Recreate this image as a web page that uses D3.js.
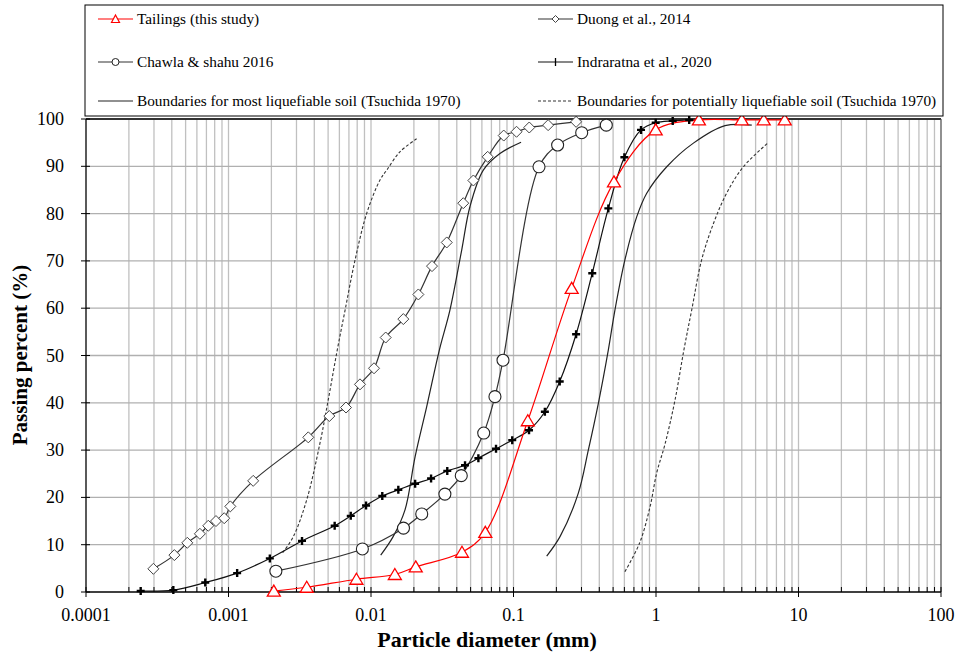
<!DOCTYPE html>
<html><head><meta charset="utf-8">
<script src="https://cdn.jsdelivr.net/npm/d3@7"></script>
<style>body{margin:0;background:#fff}svg{display:block}text{font-family:"Liberation Serif","Times New Roman",serif}</style>
</head><body><svg id="c" width="959" height="655"></svg>
<script>
// ---- data ----
const tailingsD = [0.00208,0.00354,0.0079,0.0147,0.0206,0.0435,0.0634,0.126,0.256,0.507,0.995,2.0,4.0,5.7,8.0];
const tailingsP = [0.2,1.0,2.7,3.7,5.3,8.4,12.6,36.2,64.2,86.7,97.7,99.8,99.8,99.8,99.8];
const duongD = [0.000297,0.000417,0.000514,0.00063,0.000721,0.000817,0.000933,0.00103,0.00149,0.00363,0.0051,0.00668,0.00837,0.0105,0.01268,0.01686,0.0215,0.0268,0.034,0.0444,0.0523,0.0659,0.0854,0.105,0.129,0.175,0.275];
const duongP = [4.9,7.8,10.4,12.3,14.0,15.0,15.6,18.1,23.5,32.7,37.2,39.0,43.9,47.3,53.8,57.7,62.9,68.9,73.9,82.2,87.0,92.0,96.5,97.3,98.2,98.7,99.4];
const chawlaD = [0.00215,0.0087,0.0169,0.0227,0.033,0.043,0.0618,0.0741,0.0844,0.151,0.204,0.301,0.448];
const chawlaP = [4.4,9.1,13.5,16.5,20.7,24.6,33.6,41.3,49.0,89.9,94.5,97.1,98.7];
const indraD = [0.000242,0.00041,0.000687,0.00115,0.00195,0.00328,0.00556,0.00721,0.00923,0.012,0.01555,0.0204,0.0264,0.0343,0.0457,0.0567,0.0754,0.098,0.1285,0.166,0.211,0.275,0.357,0.463,0.6,0.785,0.995,1.31,1.71];
const indraP = [0.2,0.4,2.0,4.0,7.1,10.8,14.0,16.1,18.3,20.3,21.6,22.9,24.0,25.6,26.8,28.3,30.3,32.1,34.2,38.1,44.5,54.5,67.4,81.1,91.9,97.7,99.2,99.6,99.8];
const mostFineD = [0.0117,0.0143,0.0173,0.0204,0.0246,0.0302,0.0358,0.0433,0.0495,0.0614,0.0803,0.113];
const mostFineP = [7.8,11.7,17.3,28.6,39.2,51.2,59.6,72.3,81.5,89.2,92.7,95.1];
const mostCoarseD = [0.171,0.212,0.285,0.335,0.394,0.463,0.515,0.605,0.732,0.861,1.19,1.83,3.05,4.7];
const mostCoarseP = [7.6,11.7,20.9,30.0,39.9,51.2,59.6,70.2,79.3,84.3,89.9,94.9,98.6,98.7];
const potFineD = [0.0024,0.00285,0.00354,0.00438,0.00501,0.0058,0.00658,0.00773,0.00934,0.01156,0.0129,0.016,0.0211];
const potFineP = [8.3,11.7,19.5,31.4,40.6,51.2,59.6,70.2,80.1,87.1,89.2,93.1,95.9];
const potCoarseD = [0.605,0.766,0.908,1.01,1.16,1.36,1.57,1.78,2.09,2.53,3.13,4.10,6.14];
const potCoarseP = [4.3,10.3,18.0,25.1,31.4,40.6,51.2,59.6,70.2,77.9,84.3,89.9,95.0];
const xTickLabels = ["0.0001","0.001","0.01","0.1","1","10","100"];
const yTicks = [0,10,20,30,40,50,60,70,80,90,100];
const legendLabels = ["Tailings (this study)","Duong et al., 2014","Chawla & shahu 2016","Indraratna et al., 2020","Boundaries for most liquefiable soil (Tsuchida 1970)","Boundaries for potentially liquefiable soil (Tsuchida 1970)"];

// ---- drawing ----
const svg = d3.select("#c");
const L=86,R=941,T=119,B=592;
const x = d3.scaleLog().domain([0.0001,100]).range([L,R]);
const y = d3.scaleLinear().domain([0,100]).range([B,T]);
const zip=(a,b)=>a.map((d,i)=>[d,b[i]]);

// grid
const minor=[];
for(let e=-4;e<2;e++){for(let m=1;m<10;m++){minor.push(m*Math.pow(10,e));}}
minor.push(100);
const g=svg.append("g");
g.selectAll("line.vg").data(minor.filter(v=>v>0.0001&&v<100)).enter().append("line")
 .attr("x1",d=>x(d)).attr("x2",d=>x(d)).attr("y1",T).attr("y2",B)
 .attr("stroke","#c0c0c0").attr("stroke-width",1.3);
g.selectAll("line.hg").data(yTicks.filter(v=>v>0)).enter().append("line")
 .attr("x1",L).attr("x2",R).attr("y1",d=>y(d)).attr("y2",d=>y(d))
 .attr("stroke","#b0b0b0").attr("stroke-width",1.3);
// frame
svg.append("line").attr("x1",L).attr("x2",R).attr("y1",T).attr("y2",T).attr("stroke","#000").attr("stroke-width",1.3);
svg.append("line").attr("x1",R).attr("x2",R).attr("y1",T).attr("y2",B).attr("stroke","#555").attr("stroke-width",1.3);

// axes
const xAxis=svg.append("g").attr("transform",`translate(0,${B})`);
xAxis.append("line").attr("x1",L).attr("x2",R).attr("stroke","#000").attr("stroke-width",1.3);
xAxis.selectAll("line.mt").data(minor).enter().append("line")
 .attr("x1",d=>x(d)).attr("x2",d=>x(d))
 .attr("y1",-5).attr("y2",(d,i)=>Math.abs(Math.log10(d)-Math.round(Math.log10(d)))<1e-9?5:0)
 .attr("stroke","#000").attr("stroke-width",1);
xAxis.selectAll("text").data(xTickLabels).enter().append("text")
 .attr("x",d=>x(+d)).attr("y",29).attr("text-anchor","middle").attr("font-size",18).attr("fill","#000").text(d=>d);

const yAxis=svg.append("g").attr("transform",`translate(${L},0)`);
yAxis.append("line").attr("y1",T).attr("y2",B).attr("stroke","#000").attr("stroke-width",1.3);
yAxis.selectAll("line.t").data(yTicks).enter().append("line")
 .attr("x1",-5).attr("x2",4).attr("y1",d=>y(d)).attr("y2",d=>y(d)).attr("stroke","#000");
yAxis.selectAll("text").data(yTicks).enter().append("text")
 .attr("x",-22).attr("y",d=>y(d)+6).attr("text-anchor","end").attr("font-size",18).attr("fill","#000").text(d=>d);

svg.append("text").attr("x",487).attr("y",647).attr("text-anchor","middle").attr("font-size",22).attr("font-weight","bold").text("Particle diameter (mm)");
svg.append("text").attr("transform","translate(27,355) rotate(-90)").attr("text-anchor","middle").attr("font-size",21).attr("font-weight","bold").text("Passing percent (%)");

// lines
const line=d3.line().x(d=>x(d[0])).y(d=>y(d[1])).curve(d3.curveCatmullRom.alpha(0.5));
const plot=svg.append("g");
function path(data,color,dash,w){
  plot.append("path").attr("d",line(data)).attr("fill","none").attr("stroke",color).attr("stroke-width",w||1.2).attr("stroke-dasharray",dash||null);
}
path(zip(mostFineD,mostFineP),"#222");
path(zip(mostCoarseD,mostCoarseP),"#222");
path(zip(potFineD,potFineP),"#333","3,2",1.1);
path(zip(potCoarseD,potCoarseP),"#333","3,2",1.1);
path(zip(duongD,duongP),"#333");
path(zip(chawlaD,chawlaP),"#333");
path(zip(indraD,indraP),"#111");
path(zip(tailingsD,tailingsP),"#ff0000");

// markers
function marker(sel,type,cx,cy){
  if(type==="tri"){
    sel.append("path").attr("d",`M${cx},${cy-6}L${cx+6.5},${cy+5}L${cx-6.5},${cy+5}Z`).attr("fill","#fff").attr("stroke","#ff0000").attr("stroke-width",1.3);
  } else if(type==="dia"){
    sel.append("path").attr("d",`M${cx},${cy-5.5}L${cx+5.5},${cy}L${cx},${cy+5.5}L${cx-5.5},${cy}Z`).attr("fill","#fff").attr("stroke","#444").attr("stroke-width",1);
  } else if(type==="circ"){
    sel.append("circle").attr("cx",cx).attr("cy",cy).attr("r",6).attr("fill","#fff").attr("stroke","#222").attr("stroke-width",1.1);
  } else if(type==="plus"){
    sel.append("path").attr("d",`M${cx-4},${cy}H${cx+4}M${cx},${cy-4}V${cy+4}`).attr("stroke","#000").attr("stroke-width",2.4);
  }
}
function markers(D,P,type){const mg=plot.append("g");D.forEach((d,i)=>marker(mg,type,x(d),y(P[i])));}
markers(duongD,duongP,"dia");
markers(chawlaD,chawlaP,"circ");
markers(indraD,indraP,"plus");
markers(tailingsD,tailingsP,"tri");

// legend
const lg=svg.append("g");
lg.append("rect").attr("x",85).attr("y",5).attr("width",858).attr("height",111).attr("fill","#fff").attr("stroke","#000").attr("stroke-width",1);
const items=[
 {c:0,r:0,col:"#ff0000",m:"tri"},
 {c:1,r:0,col:"#333",m:"dia"},
 {c:0,r:1,col:"#333",m:"circ"},
 {c:1,r:1,col:"#111",m:"plus"},
 {c:0,r:2,col:"#222",m:null},
 {c:1,r:2,col:"#333",m:null,dash:"3,2"}];
const colX=[98,538], rowY=[19,62,101];
items.forEach((it,i)=>{
  const x0=colX[it.c], yy=rowY[it.r];
  lg.append("line").attr("x1",x0).attr("x2",x0+35).attr("y1",yy).attr("y2",yy).attr("stroke",it.col).attr("stroke-width",1.2).attr("stroke-dasharray",it.dash||null);
  if(it.m){
    const s=lg.append("g");
    if(it.m==="tri"){s.append("path").attr("d",`M${x0+17.5},${yy-4}L${x0+21.5},${yy+3.5}L${x0+13.5},${yy+3.5}Z`).attr("fill","#fff").attr("stroke","#ff0000").attr("stroke-width",1.2);}
    else if(it.m==="dia"){s.append("path").attr("d",`M${x0+17.5},${yy-3.5}L${x0+21},${yy}L${x0+17.5},${yy+3.5}L${x0+14},${yy}Z`).attr("fill","#fff").attr("stroke","#444");}
    else if(it.m==="circ"){s.append("circle").attr("cx",x0+17.5).attr("cy",yy).attr("r",3.5).attr("fill","#fff").attr("stroke","#222");}
    else if(it.m==="plus"){s.append("path").attr("d",`M${x0+17.5},${yy-4}V${yy+4}`).attr("stroke","#000").attr("stroke-width",1.3);}
  }
  lg.append("text").attr("x",x0+39).attr("y",yy+5).attr("font-size",15.3).attr("fill","#000").text(legendLabels[i]);
});
</script></body></html>
